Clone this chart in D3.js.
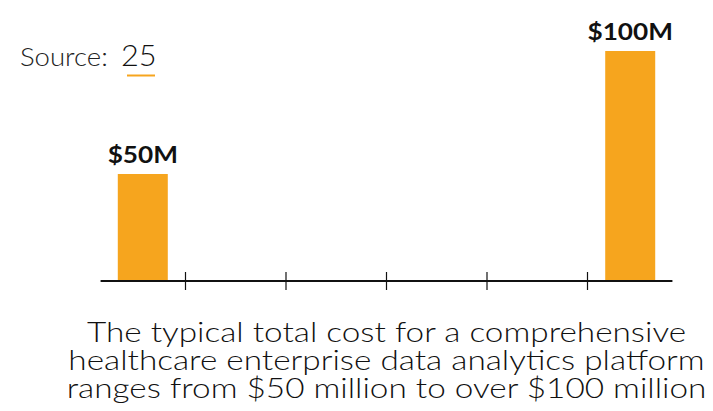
<!DOCTYPE html>
<html>
<head>
<meta charset="utf-8">
<script src="https://cdn.jsdelivr.net/npm/d3@7"></script>
<style>
  html, body { margin: 0; padding: 0; background: #fff; }
  #chart { width: 713px; height: 411px; }
  text { font-family: "Lato", "Open Sans", sans-serif; }
</style>
</head>
<body>
<div id="chart"></div>
<script>
// データ
const categories = ["low", "high"];
const values = [50, 100];
const valueLabels = ["$50M", "$100M"];
const tickValues = [1, 2, 3, 4, 5];
const sourceLabel = "Source:";
const sourceRef = "25";
const captionLines = [
    "The typical total cost for a comprehensive",
    "healthcare enterprise data analytics platform",
    "ranges from $50 million to over $100 million"
];

function draw() {
    const width = 713, height = 411;
    const svg = d3.select("#chart").append("svg")
        .attr("width", width)
        .attr("height", height);

    const orange = "#f6a51e";
    const baseY = 281;
    const wide = 1.19; // 元のフォントが横に広いので横方向に伸ばす

    // x軸: 目盛りは1〜5
    const xScale = d3.scaleLinear().domain([0, 6]).range([84.5, 687.5]);
    // バーの位置 (目盛り単位)
    const barPos = { low: 0.58, high: 5.43 };
    const barWidth = 50;

    // y軸
    const yScale = d3.scaleLinear().domain([6.5, 100]).range([baseY, 51]);

    // バー
    svg.selectAll("rect.bar")
        .data(values)
        .enter().append("rect")
        .attr("class", "bar")
        .attr("x", (d, i) => xScale(barPos[categories[i]]) - barWidth / 2)
        .attr("y", d => yScale(d))
        .attr("width", barWidth)
        .attr("height", d => baseY - yScale(d))
        .attr("fill", orange);

    // ラベル
    svg.selectAll("text.val")
        .data(values)
        .enter().append("text")
        .attr("class", "val")
        .attr("transform", (d, i) => `translate(${xScale(barPos[categories[i]])},${yScale(d) - 11}) scale(${wide},1)`)
        .attr("text-anchor", "middle")
        .attr("font-size", 22)
        .attr("font-weight", 700)
        .attr("fill", "#111")
        .text((d, i) => valueLabels[i]);

    // x軸
    const axis = d3.axisBottom(xScale)
        .tickValues(tickValues)
        .tickSize(9)
        .tickFormat("");
    const g = svg.append("g")
        .attr("transform", `translate(0,${baseY})`)
        .call(axis);
    g.select(".domain").remove();
    g.selectAll(".tick line")
        .attr("y1", -9)
        .attr("stroke", "#111")
        .attr("stroke-width", 1.2);
    g.append("line")
        .attr("x1", xScale(0.16))
        .attr("x2", xScale(5.85))
        .attr("stroke", "#111")
        .attr("stroke-width", 2.2);

    // Source
    svg.append("text")
        .attr("transform", "translate(20,66) scale(1.06,1)")
        .attr("font-size", 26)
        .attr("font-weight", 300)
        .attr("fill", "#222")
        .text(sourceLabel);
    svg.append("text")
        .attr("transform", "translate(121,66) scale(1.06,1)")
        .attr("font-size", 29)
        .attr("font-weight", 300)
        .attr("fill", "#111")
        .text(sourceRef);
    svg.append("line")
        .attr("x1", 127)
        .attr("x2", 155)
        .attr("y1", 75.5)
        .attr("y2", 75.5)
        .attr("stroke", orange)
        .attr("stroke-width", 2);

    // キャプション
    svg.selectAll("text.cap")
        .data(captionLines)
        .enter().append("text")
        .attr("class", "cap")
        .attr("transform", (d, i) => `translate(386.5,${342 + i * 28}) scale(${wide},1)`)
        .attr("text-anchor", "middle")
        .attr("font-size", 28)
        .attr("font-weight", 300)
        .attr("fill", "#111")
        .text(d => d);
}
draw();
</script>
</body>
</html>
